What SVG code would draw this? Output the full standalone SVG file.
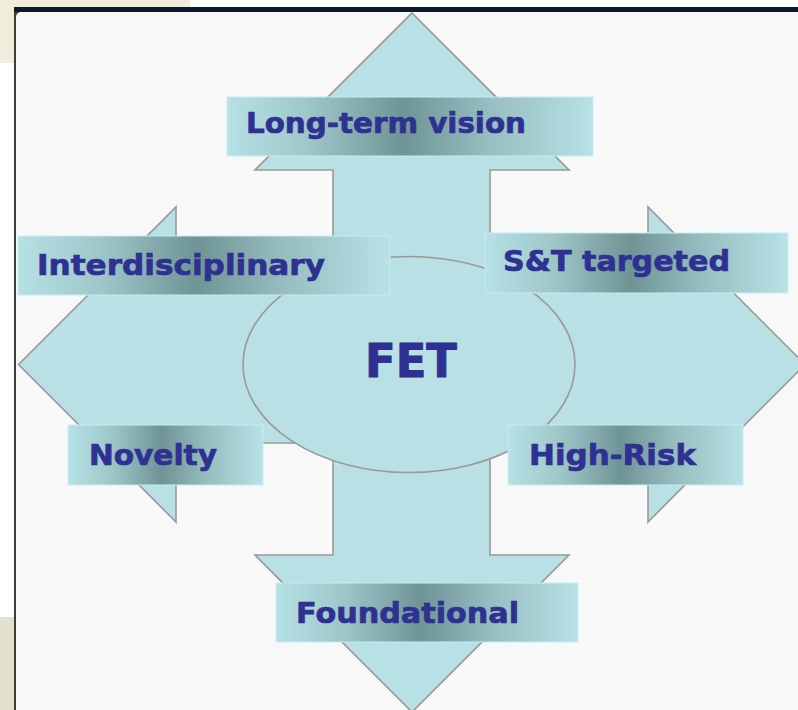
<svg xmlns="http://www.w3.org/2000/svg" width="798" height="710" viewBox="0 0 798 710">
<defs>
<linearGradient id="lbl" x1="0" y1="0" x2="1" y2="0">
<stop offset="0" stop-color="#b6e1e5"/>
<stop offset="0.22" stop-color="#9fc7ca"/>
<stop offset="0.48" stop-color="#6f9496"/>
<stop offset="0.72" stop-color="#97bec1"/>
<stop offset="1" stop-color="#b8e2e6"/>
</linearGradient>
<style>
.lbl{fill:url(#lbl);stroke:#c4eef2;stroke-width:1}
.t{font-family:"DejaVu Sans","Verdana",sans-serif;font-weight:bold;font-size:29px;fill:#2e3192;stroke:#2e3192;stroke-width:0.7px}
.shape{fill:#b9e0e4;stroke:#999999;stroke-width:1.6;stroke-linejoin:miter}
</style>
</defs>
<rect x="0" y="0" width="798" height="710" fill="#ffffff"/>
<rect x="0" y="0" width="190" height="63" fill="#f0eddb"/>
<rect x="0" y="617" width="14" height="93" fill="#e3e1cd"/>
<rect x="14" y="7" width="784" height="703" fill="#3e3e3e"/>
<rect x="14" y="7" width="784" height="5" fill="#0c1a2b"/>
<rect x="16" y="12" width="800" height="710" rx="5" fill="#f8f8f8"/>
<g id="connectors">
<polygon class="shape" points="412,13 569,170 490,170 490,286 648,286 648,207 805,364.5 648,522 648,443 490,443 490,555 569,555 412,712 255,555 333,555 333,443 176,443 176,522 18.5,364.5 176,207 176,286 333,286 333,170 255,170"/>
</g>
<g id="fet">
<ellipse class="shape" cx="409" cy="364.5" rx="166" ry="108"/>
<text class="t" x="411" y="377" style="font-size:47px;stroke-width:1px" text-anchor="middle" textLength="92" lengthAdjust="spacingAndGlyphs">FET</text>
</g>
<g id="long-term">
<rect class="lbl" x="227" y="97" width="366" height="59"/>
<text class="t" x="246" y="133" textLength="280" lengthAdjust="spacingAndGlyphs">Long-term vision</text>
</g>
<g id="interdisciplinary">
<rect class="lbl" x="18" y="236" width="372" height="59"/>
<text class="t" x="37" y="275" textLength="288" lengthAdjust="spacingAndGlyphs">Interdisciplinary</text>
</g>
<g id="st-targeted">
<rect class="lbl" x="485" y="233" width="303" height="60"/>
<text class="t" x="503" y="271" textLength="227" lengthAdjust="spacingAndGlyphs">S&amp;T targeted</text>
</g>
<g id="novelty">
<rect class="lbl" x="68" y="425" width="195" height="60"/>
<text class="t" x="89" y="465" textLength="128" lengthAdjust="spacingAndGlyphs">Novelty</text>
</g>
<g id="high-risk">
<rect class="lbl" x="508" y="425" width="235" height="60"/>
<text class="t" x="529" y="465" textLength="167" lengthAdjust="spacingAndGlyphs">High-Risk</text>
</g>
<g id="foundational">
<rect class="lbl" x="276" y="583" width="302" height="59"/>
<text class="t" x="296" y="623" textLength="223" lengthAdjust="spacingAndGlyphs">Foundational</text>
</g>
</svg>
